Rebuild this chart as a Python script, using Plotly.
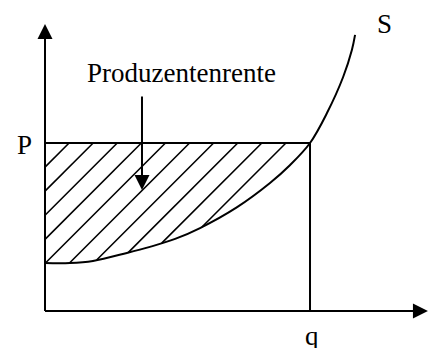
import numpy as np
import plotly.graph_objects as go

# ---- data (chart units: quantity on x, price on y) ----
supply_q = [0.0, 0.94, 1.81, 3.09, 3.96, 4.91, 5.85, 7.25, 8.49, 9.25, 10.0, 10.64, 11.25, 11.58, 11.70]
supply_p = [1.81, 1.81, 1.89, 2.19, 2.42, 2.72, 3.13, 3.92, 4.83, 5.51, 6.34, 7.47, 8.83, 9.85, 10.42]

market_price = 6.34      # P
market_quantity = 10.0   # q

price_label = "P"
quantity_label = "q"
curve_label = "S"
area_label = "Produzentenrente"

# ---- layout constants ----
W, H = 429, 348
x_range = [-1.698, 14.49]
y_range = [-1.396, 11.736]
axis_x_end = 14.45
axis_y_end = 10.83
hatch_spacing_div = 11
hatch_lines = 10
FONT = "Liberation Serif, Times New Roman, serif"
FONT_SIZE = 27
BLACK = "#000000"

fig = go.Figure()

# axes lines
fig.add_trace(go.Scatter(x=[0, 0, None, 0, axis_x_end - 0.3], y=[axis_y_end - 0.3, 0, None, 0, 0],
                         mode="lines", line=dict(color=BLACK, width=2), hoverinfo="skip", showlegend=False))

# hatch lines (45 degree), clipped to the area between the supply curve and P
sq = np.array(supply_q)
sp = np.array(supply_p)
d = market_quantity / hatch_spacing_div
hx, hy = [], []
for k in range(1, hatch_lines + 1):
    x_top = k * d
    c = market_price - x_top
    xs = np.linspace(0, x_top, 2000)
    ys = xs + c
    inside = ys >= np.interp(xs, sq, sp) - 1e-9
    outside_idx = np.where(~inside)[0]
    start = outside_idx[-1] + 1 if len(outside_idx) else 0
    if start >= len(xs) - 1:
        continue
    hx += [xs[start], x_top, None]
    hy += [ys[start], market_price, None]
fig.add_trace(go.Scatter(x=hx, y=hy, mode="lines", line=dict(color=BLACK, width=1.6),
                         hoverinfo="skip", showlegend=False))

# rectangle P / q
fig.add_trace(go.Scatter(x=[0, market_quantity, market_quantity], y=[market_price, market_price, 0],
                         mode="lines", line=dict(color=BLACK, width=2), hoverinfo="skip", showlegend=False))

# supply curve
fig.add_trace(go.Scatter(x=supply_q, y=supply_p, mode="lines", line=dict(color=BLACK, width=2, shape="spline"),
                         hoverinfo="skip", showlegend=False))

arrow_common = dict(xref="x", yref="y", axref="x", ayref="y", text="", showarrow=True,
                    arrowhead=2, arrowsize=1.5, arrowwidth=2, arrowcolor=BLACK, standoff=0, startstandoff=0)
font = dict(family=FONT, size=FONT_SIZE, color=BLACK)
annotations = [
    dict(x=0, y=axis_y_end, ax=0, ay=axis_y_end - 1.0, **arrow_common),
    dict(x=axis_x_end, y=0, ax=axis_x_end - 1.0, ay=0, **arrow_common),
    dict(x=3.66, y=4.57, ax=3.66, ay=8.15, **arrow_common),
    dict(x=5.15, y=8.98, text=area_label, showarrow=False, xref="x", yref="y", font=font),
    dict(x=0, y=market_price, text=price_label, showarrow=False, xref="x", yref="y",
         xshift=-21, yshift=-2.5, font=font),
    dict(x=market_quantity, y=0, text=quantity_label, showarrow=False, xref="x", yref="y",
         xshift=1.5, yshift=-25, font=font),
    dict(x=supply_q[-1], y=supply_p[-1], text=curve_label, showarrow=False, xref="x", yref="y",
         xshift=29, yshift=11, font=font),
]

fig.update_layout(
    width=W, height=H, margin=dict(l=0, r=0, t=0, b=0),
    paper_bgcolor="white", plot_bgcolor="white",
    xaxis=dict(range=x_range, visible=False, fixedrange=True),
    yaxis=dict(range=y_range, visible=False, fixedrange=True),
    annotations=annotations, showlegend=False,
)

fig.write_html("out.html", config={"displayModeBar": False},
               post_script="document.body.style.margin='0';document.body.style.overflow='hidden';")
